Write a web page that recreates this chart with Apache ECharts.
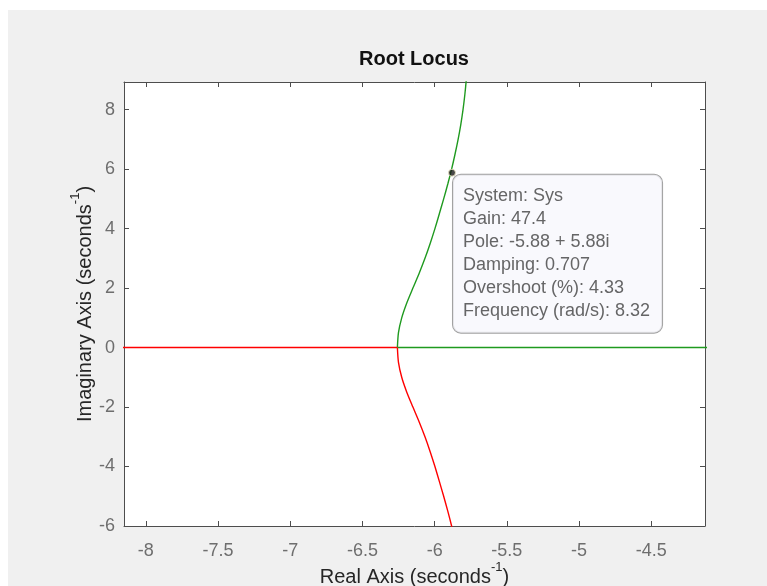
<!DOCTYPE html>
<html>
<head>
<meta charset="utf-8">
<script src="https://cdn.jsdelivr.net/npm/echarts@6/dist/echarts.min.js"></script>
<style>
html,body{margin:0;padding:0;background:#fff;}
#bg{position:absolute;left:8px;top:10px;width:759px;height:576px;background:#f0f0f0;}
#chart{position:absolute;left:0;top:0;width:767px;height:586px;}
</style>
</head>
<body>
<div id="bg"></div>
<div id="chart"></div>
<script>
// Axis ranges and ticks
const xRange = [-8.151, -4.128];
const yRange = [-6, 8.93];
const xTickStep = 0.5;
const yTickStep = 2;

// Real-axis segments (imag = 0)
const redRealAxisX = [-8.6, -6.258];
const greenRealAxisX = [-6.258, -3.9];

// Upper (green) complex branch
const greenImag = [0, 0.5, 1.0, 1.5, 2.0, 2.5, 3.0, 3.5, 4.0, 4.5, 5.0, 5.5, 6.0, 6.5, 7.0, 7.5, 8.0, 8.5, 9.0, 9.5];
const greenReal = [-6.258, -6.2505, -6.228, -6.193, -6.1505, -6.107, -6.067, -6.031, -5.998, -5.9675, -5.9375, -5.909, -5.8825, -5.859, -5.8375, -5.819, -5.8035, -5.791, -5.781, -5.773];

// Lower (red) complex branch
const redImag = [0, -0.5, -1.0, -1.5, -2.0, -2.5, -3.0, -3.5, -4.0, -4.5, -5.0, -5.5, -6.0, -6.5];
const redReal = [-6.258, -6.2505, -6.228, -6.193, -6.1505, -6.107, -6.067, -6.031, -5.998, -5.9675, -5.9375, -5.909, -5.8825, -5.859];

// Data tip
const tipPoint = [-5.88, 5.88];
const tipLines = ['System: Sys', 'Gain: 47.4', 'Pole: -5.88 + 5.88i', 'Damping: 0.707', 'Overshoot (%): 4.33', 'Frequency (rad/s): 8.32'];

const FONT = '"Liberation Sans", Arial, Helvetica, sans-serif';
const axisColor = '#4d4d4d';
const tickColor = '#6e6e6e';
const RED = '#ff0000';
const GREEN = '#1f9a1f';

function fmt(v, step) {
  const r = Math.round(v / step) * step;
  if (Math.abs(r - v) > 1e-6) return '';
  return String(Math.round(r * 100) / 100);
}

const chart = echarts.init(document.getElementById('chart'), null, {renderer: 'canvas'});

const baseX = {
  type: 'value', min: xRange[0], max: xRange[1], splitNumber: 8,
  axisLine: {show: true, onZero: false, lineStyle: {color: axisColor, width: 1}},
  axisTick: {show: true, inside: true, length: 5, lineStyle: {color: axisColor}},
  splitLine: {show: false}
};
const baseY = {
  type: 'value', min: yRange[0], max: yRange[1], interval: yTickStep,
  axisLine: {show: true, onZero: false, lineStyle: {color: axisColor, width: 1}},
  axisTick: {show: true, inside: true, length: 5, lineStyle: {color: axisColor}},
  splitLine: {show: false}
};

const richName = {
  a: {fontFamily: FONT, fontSize: 20, color: '#262626', lineHeight: 26, verticalAlign: 'bottom'},
  s: {fontFamily: FONT, fontSize: 13, color: '#262626', lineHeight: 26, verticalAlign: 'top'}
};

const option = {
  animation: false,
  backgroundColor: 'transparent',
  title: {
    text: 'Root Locus', left: 354, top: 44,
    textStyle: {fontFamily: FONT, fontSize: 20, fontWeight: 'bold', color: '#111111'}
  },
  grid: {left: 124, top: 82, width: 581, height: 444, show: true, backgroundColor: '#ffffff', borderWidth: 0,
    outerBoundsMode: 'none', containLabel: false},
  xAxis: [
    Object.assign({}, baseX, {
      position: 'bottom',
      axisLabel: {show: true, margin: 16, color: tickColor, fontFamily: FONT, fontSize: 18,
        showMinLabel: false, showMaxLabel: false, formatter: v => fmt(v, xTickStep)},
      name: '{a|Real Axis (seconds}{s|-1}{a|)}', nameLocation: 'middle', nameGap: 35, nameMoveOverlap: false,
      nameTextStyle: {rich: richName}
    }),
    Object.assign({}, baseX, {position: 'top', axisLabel: {show: false}})
  ],
  yAxis: [
    Object.assign({}, baseY, {
      position: 'left',
      axisLabel: {show: true, margin: 9, color: tickColor, fontFamily: FONT, fontSize: 18,
        formatter: v => fmt(v, yTickStep)},
      name: '{a|Imaginary Axis (seconds}{s|-1}{a|)}', nameLocation: 'middle', nameGap: 29, nameMoveOverlap: false,
      nameTextStyle: {rich: richName}
    }),
    Object.assign({}, baseY, {position: 'right', axisLabel: {show: false}})
  ],
  series: [
    {
      type: 'line', name: 'redReal', showSymbol: false, symbol: 'none', clip: true,
      data: redRealAxisX.map(x => [x, 0]),
      lineStyle: {color: RED, width: 1.6}
    },
    {
      type: 'line', name: 'greenReal', showSymbol: false, symbol: 'none', clip: true,
      data: greenRealAxisX.map(x => [x, 0]),
      lineStyle: {color: GREEN, width: 1.6}
    },
    {
      type: 'line', name: 'greenBranch', showSymbol: false, symbol: 'none', clip: true, smooth: 0.25,
      data: greenImag.map((im, i) => [greenReal[i], im]),
      lineStyle: {color: GREEN, width: 1.4}
    },
    {
      type: 'line', name: 'redBranch', showSymbol: false, symbol: 'none', clip: true, smooth: 0.25,
      data: redImag.map((im, i) => [redReal[i], im]),
      lineStyle: {color: RED, width: 1.4}
    },
    {
      type: 'scatter', name: 'tip', symbol: 'circle', symbolSize: 7,
      data: [tipPoint],
      itemStyle: {color: '#1a1a1a', borderColor: '#f4eec8', borderWidth: 1},
      label: {
        show: true, position: [5, 6], align: 'left', verticalAlign: 'top',
        formatter: () => tipLines.join('\n'),
        fontFamily: FONT, fontSize: 18, lineHeight: 23, color: '#404040',
        backgroundColor: '#f8f8fd', borderColor: '#8a8a8a', borderWidth: 1, borderRadius: 8,
        padding: [10, 12, 10, 10]
      },
      z: 10
    }
  ]
};
chart.setOption(option);
</script>
</body>
</html>
